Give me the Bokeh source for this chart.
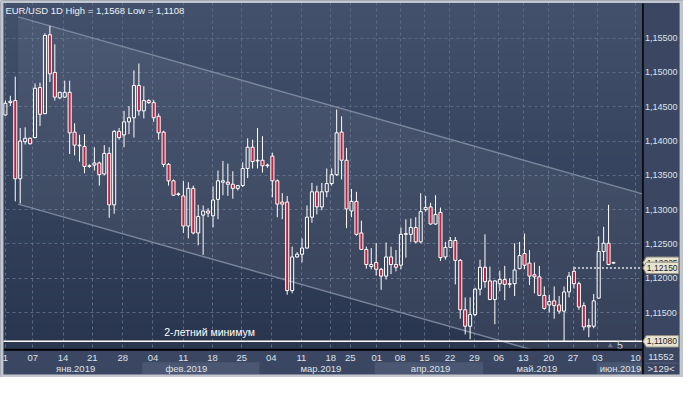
import numpy as np
from bokeh.plotting import figure
from bokeh.models import Range1d, FixedTicker, Grid
from bokeh.core.properties import value
from bokeh.embed import file_html
from bokeh.resources import INLINE

# ---------------- data ----------------
open_ = [1.1438, 1.1456, 1.1459, 1.1345, 1.1399, 1.1404, 1.1405, 1.1478, 1.1440, 1.1555,
         1.1500, 1.1463, 1.1464, 1.1471, 1.1413, 1.1394, 1.1392, 1.1364, 1.1365, 1.1368,
         1.1352, 1.1382, 1.1307, 1.1414, 1.1409, 1.1428, 1.1434, 1.1481, 1.1444, 1.1459,
         1.1456, 1.1436, 1.1413, 1.1366, 1.1342, 1.1322, 1.1320, 1.1276, 1.1331, 1.1266,
         1.1292, 1.1298, 1.1291, 1.1315, 1.1340, 1.1340, 1.1337, 1.1331, 1.1335, 1.1360,
         1.1391, 1.1371, 1.1372, 1.1364, 1.1378, 1.1342, 1.1311, 1.1311, 1.1182, 1.1231,
         1.1235, 1.1244, 1.1289, 1.1326, 1.1304, 1.1326, 1.1338, 1.1351, 1.1413, 1.1372,
         1.1298, 1.1312, 1.1266, 1.1242, 1.1217, 1.1223, 1.1213, 1.1203, 1.1231, 1.1220,
         1.1219, 1.1264, 1.1264, 1.1274, 1.1253, 1.1300, 1.1304, 1.1279, 1.1296, 1.1231,
         1.1245, 1.1255, 1.1226, 1.1154, 1.1130, 1.1147, 1.1184, 1.1216, 1.1196, 1.1169,
         1.1192, 1.1198, 1.1192, 1.1192, 1.1214, 1.1236, 1.1222, 1.1205, 1.1202, 1.1175,
         1.1161, 1.1167, 1.1161, 1.1152, 1.1180, 1.1210, 1.1192, 1.1160, 1.1129, 1.1130,
         1.1171, 1.1239, 1.1251, 1.1222]
high = [1.1459, 1.1466, 1.1494, 1.1419, 1.1420, 1.1405, 1.1484, 1.1485, 1.1557, 1.1568,
        1.1541, 1.1472, 1.1488, 1.1488, 1.1426, 1.1409, 1.1410, 1.1366, 1.1391, 1.1370,
        1.1394, 1.1391, 1.1416, 1.1419, 1.1444, 1.1451, 1.1503, 1.1513, 1.1480, 1.1461,
        1.1460, 1.1440, 1.1415, 1.1368, 1.1344, 1.1325, 1.1342, 1.1340, 1.1335, 1.1307,
        1.1306, 1.1302, 1.1334, 1.1357, 1.1371, 1.1367, 1.1356, 1.1336, 1.1369, 1.1404,
        1.1402, 1.1419, 1.1407, 1.1367, 1.1383, 1.1344, 1.1324, 1.1320, 1.1246, 1.1238,
        1.1258, 1.1306, 1.1339, 1.1335, 1.1339, 1.1360, 1.1360, 1.1446, 1.1436, 1.1390,
        1.1330, 1.1326, 1.1284, 1.1246, 1.1244, 1.1251, 1.1215, 1.1252, 1.1246, 1.1241,
        1.1274, 1.1286, 1.1287, 1.1289, 1.1324, 1.1320, 1.1310, 1.1321, 1.1303, 1.1253,
        1.1260, 1.1260, 1.1228, 1.1172, 1.1172, 1.1186, 1.1227, 1.1264, 1.1217, 1.1197,
        1.1211, 1.1218, 1.1200, 1.1251, 1.1253, 1.1265, 1.1241, 1.1223, 1.1218, 1.1188,
        1.1176, 1.1188, 1.1174, 1.1188, 1.1209, 1.1217, 1.1195, 1.1165, 1.1141, 1.1177,
        1.1261, 1.1275, 1.1307, 1.1224]
low = [1.1437, 1.1451, 1.1312, 1.1309, 1.1395, 1.1395, 1.1404, 1.1422, 1.1439, 1.1486,
       1.1459, 1.1461, 1.1463, 1.1381, 1.1379, 1.1370, 1.1353, 1.1361, 1.1357, 1.1335,
       1.1350, 1.1288, 1.1294, 1.1402, 1.1391, 1.1410, 1.1405, 1.1437, 1.1433, 1.1454,
       1.1428, 1.1402, 1.1362, 1.1335, 1.1320, 1.1320, 1.1266, 1.1258, 1.1264, 1.1248,
       1.1234, 1.1289, 1.1274, 1.1286, 1.1321, 1.1320, 1.1316, 1.1328, 1.1333, 1.1346,
       1.1360, 1.1360, 1.1354, 1.1361, 1.1318, 1.1289, 1.1286, 1.1176, 1.1178, 1.1230,
       1.1223, 1.1243, 1.1281, 1.1293, 1.1299, 1.1318, 1.1335, 1.1349, 1.1344, 1.1273,
       1.1289, 1.1262, 1.1241, 1.1214, 1.1213, 1.1204, 1.1183, 1.1198, 1.1206, 1.1210,
       1.1213, 1.1230, 1.1253, 1.1251, 1.1251, 1.1297, 1.1278, 1.1278, 1.1225, 1.1227,
       1.1244, 1.1191, 1.1141, 1.1118, 1.1111, 1.1145, 1.1175, 1.1186, 1.1168, 1.1133,
       1.1181, 1.1168, 1.1186, 1.1174, 1.1213, 1.1213, 1.1190, 1.1178, 1.1174, 1.1154,
       1.1150, 1.1141, 1.1148, 1.1108, 1.1172, 1.1185, 1.1154, 1.1124, 1.1114, 1.1127,
       1.1170, 1.1225, 1.1219, 1.1221]
close = [1.1455, 1.1458, 1.1345, 1.1400, 1.1404, 1.1396, 1.1477, 1.1439, 1.1554, 1.1498,
         1.1464, 1.1471, 1.1471, 1.1412, 1.1394, 1.1393, 1.1363, 1.1363, 1.1368, 1.1351,
         1.1382, 1.1307, 1.1414, 1.1405, 1.1428, 1.1434, 1.1481, 1.1444, 1.1459, 1.1456,
         1.1434, 1.1412, 1.1366, 1.1342, 1.1321, 1.1323, 1.1276, 1.1331, 1.1266, 1.1290,
         1.1298, 1.1295, 1.1314, 1.1342, 1.1342, 1.1337, 1.1331, 1.1335, 1.1360, 1.1391,
         1.1370, 1.1372, 1.1364, 1.1365, 1.1342, 1.1308, 1.1308, 1.1182, 1.1231, 1.1235,
         1.1244, 1.1289, 1.1326, 1.1304, 1.1326, 1.1338, 1.1351, 1.1412, 1.1372, 1.1301,
         1.1312, 1.1264, 1.1242, 1.1220, 1.1220, 1.1213, 1.1203, 1.1231, 1.1220, 1.1216,
         1.1264, 1.1265, 1.1274, 1.1253, 1.1297, 1.1303, 1.1279, 1.1293, 1.1230, 1.1245,
         1.1255, 1.1226, 1.1154, 1.1130, 1.1147, 1.1184, 1.1216, 1.1195, 1.1169, 1.1196,
         1.1198, 1.1191, 1.1191, 1.1212, 1.1233, 1.1219, 1.1203, 1.1202, 1.1175, 1.1156,
         1.1166, 1.1160, 1.1152, 1.1180, 1.1203, 1.1192, 1.1158, 1.1129, 1.1131, 1.1167,
         1.1239, 1.1251, 1.1220, 1.1223]

# bar-index positions of the date labels
day_pos = [1.0, 6.53, 12.66, 18.59, 24.72, 30.84, 36.97, 42.90, 48.83, 54.76, 60.88, 66.81,
           70.76, 76.10, 80.84, 85.78, 90.92, 95.86, 100.80, 105.74, 110.88, 115.82, 120.76, 128.47]
day_labels = ["1", "07", "14", "21", "28", "04", "11", "18", "25", "04", "11", "18",
              "25", "01", "08", "15", "22", "29", "06", "13", "20", "27", "03", "10"]
month_pos = [15.2, 37.6, 64.8, 87.0, 108.5, 125.4]
month_labels = ["янв.2019", "фев.2019", "мар.2019", "апр.2019", "май.2019", "июн.2019"]
band_start = [28.7, 75.7, 120.6]
band_end = [52.4, 97.6, 129.85]

price_ticks = [1.115, 1.120, 1.125, 1.130, 1.135, 1.140, 1.145, 1.150, 1.155]
price_labels = [f"{t:.5f}".replace(".", ",") for t in price_ticks]
two_year_low = 1.1108
last_price = 1.1215
last_bar_price = 1.12225
last_price_from = 116
channel_x = [3.57, 129.85]
channel_upper = [1.1581, 1.1323]
channel_lower = [1.1308, 1.1050]
bar_count = "11552"
visible_bars = ">129<"
title = "EUR/USD 1D High = 1,1568 Low = 1,1108"

# ---------------- layout helpers (reference pixel -> data) ----------------
def rx(px):
    return 1 + (px - 5) / 5.06

def ry(py):
    return 1.130 + (218 - py) / 7150

FONT = "Liberation Sans"
PANEL = "#3b4762"
BAND = "#4b5772"
LABEL_C = "#dde1e8"
RED = "#c0223f"
BORDER = "#c3c7ce"
PX0, PX1 = rx(3), rx(657)      # plot area left/right
PY0, PY1 = ry(363), ry(3)      # plot area bottom/top

p = figure(width=683, height=377, x_range=Range1d(rx(0), rx(699)), y_range=Range1d(ry(393), ry(0)),
           x_axis_location=None, y_axis_location=None, toolbar_location=None,
           output_backend="svg", min_border=0, min_border_left=0, min_border_right=0,
           min_border_top=0, min_border_bottom=0)
p.outline_line_color = None
p.background_fill_color = PANEL
p.border_fill_color = PANEL

# vertical gradient background of the plot area
rows = 160
top_rgb = np.array([0x43, 0x51, 0x6d], dtype=float)
bot_rgb = np.array([0x2a, 0x36, 0x4f], dtype=float)
t = np.linspace(0, 1, rows)[:, None]
cols = bot_rgb * (1 - t) + top_rgb * t
img = np.empty((rows, 1), dtype=np.uint32)
view = img.view(dtype=np.uint8).reshape((rows, 1, 4))
view[:, 0, 0] = cols[:, 0]
view[:, 0, 1] = cols[:, 1]
view[:, 0, 2] = cols[:, 2]
view[:, 0, 3] = 255
bg = p.image_rgba(image=[img], x=PX0, y=PY0, dw=PX1 - PX0, dh=PY1 - PY0)
bg.level = "image"

# grids
p.center = [r for r in p.center if not isinstance(r, Grid)]
for dim, ticks in ((0, day_pos), (1, price_ticks)):
    p.add_layout(Grid(dimension=dim, ticker=FixedTicker(ticks=ticks), grid_line_color="#5b6985",
                      grid_line_dash="3 3", grid_line_width=1), "center")

# price channel
p.patch([channel_x[0], channel_x[1], channel_x[1], channel_x[0]],
        [channel_upper[0], channel_upper[1], channel_lower[1], channel_lower[0]],
        fill_color="white", fill_alpha=0.06, line_color=None)
p.line(channel_x, channel_upper, line_color="#8a95aa", line_alpha=0.8, line_width=1.5)
p.line(channel_x, channel_lower, line_color="#8a95aa", line_alpha=0.8, line_width=1.5)

# candles
o = np.array(open_); c = np.array(close); h = np.array(high); l = np.array(low)
idx = np.arange(1, len(o) + 1)
body_top = np.maximum(o, c)
body_bot = np.minimum(o, c)
bear = c < o
p.segment(idx, h, idx, body_top, line_color="white", line_width=1)
p.segment(idx, body_bot, idx, l, line_color="white", line_width=1)
p.vbar(x=idx[~bear], width=0.62, top=body_top[~bear], bottom=body_bot[~bear],
       fill_alpha=0, line_color="white", line_width=1)
p.vbar(x=idx[bear], width=0.62, top=body_top[bear], bottom=body_bot[bear],
       fill_color=RED, line_color="white", line_width=1)

# horizontal levels
p.segment(x0=[PX0], y0=[two_year_low], x1=[PX1], y1=[two_year_low], line_color="white", line_width=1.5)
p.segment(x0=[last_price_from], y0=[last_price], x1=[PX1], y1=[last_price],
          line_color="#b7bdc9", line_dash="2 2", line_width=2)

p.text(x=[rx(214)], y=[ry(345.5)], text=["2-летний минимум"], text_align="center",
       text_baseline="middle", text_color="white", text_font=value(FONT), text_font_size="10.5px")
p.scatter([rx(624)], [ry(360)], marker="triangle", size=5, fill_color="#6c7891", line_color=None)
p.text(x=[rx(634)], y=[ry(359)], text=["5"], text_align="center", text_baseline="middle",
       text_color="#d5d9e0", text_font=value(FONT), text_font_size="10.5px")
p.text(x=[rx(5)], y=[ry(10)], text=[title], text_align="left", text_baseline="middle",
       text_color="#eef0f4", text_font=value(FONT), text_font_size="9.5px")

# bottom axis strip
p.quad(left=[rx(3)], right=[rx(695)], top=[ry(363)], bottom=[ry(390)], fill_color=PANEL, line_color=None)
p.quad(left=band_start, right=band_end, top=ry(377), bottom=ry(390), fill_color=BAND, line_color=None)
p.segment(x0=[rx(3)], y0=[ry(364)], x1=[rx(695)], y1=[ry(364)], line_color="black", line_width=2)
p.text(x=day_pos, y=ry(373), text=day_labels, text_align="center", text_baseline="middle",
       text_color=LABEL_C, text_font=value(FONT), text_font_size="9.5px")
p.text(x=month_pos, y=ry(383.5), text=month_labels, text_align="center", text_baseline="middle",
       text_color=LABEL_C, text_font=value(FONT), text_font_size="9.5px")

# right price scale
p.quad(left=[rx(657)], right=[rx(695)], top=[ry(3)], bottom=[ry(390)], fill_color=PANEL, line_color=None)
p.segment(x0=[rx(657.5)], y0=[ry(3)], x1=[rx(657.5)], y1=[ry(390)], line_color="black", line_width=1.5)
p.text(x=rx(659.5), y=price_ticks, text=price_labels, text_align="left", text_baseline="middle",
       text_color=LABEL_C, text_font=value(FONT), text_font_size="9px")

# price tags (arrow-shaped boxes)
hh = 6 / 7150
tag_vals = [last_bar_price, last_price, two_year_low]
tag_text = [f"{v:.5f}".replace(".", ",") for v in tag_vals]
for v, txt in zip(tag_vals, tag_text):
    p.patch([rx(657.5), rx(661), rx(694), rx(694), rx(661)], [v, v + hh, v + hh, v - hh, v - hh],
            fill_color="#e6e4d0", line_color="#8f8e80", line_width=1)
    p.text(x=[rx(661.5)], y=[v], text=[txt], text_align="left", text_baseline="middle",
           text_color="#1d2128", text_font=value(FONT), text_font_size="8.5px")

# corner box
p.text(x=[rx(676)], y=[ry(372)], text=[bar_count], text_align="center", text_baseline="middle",
       text_color=LABEL_C, text_font=value(FONT), text_font_size="9.5px")
p.segment(x0=[rx(660)], y0=[ry(378)], x1=[rx(693)], y1=[ry(378)], line_color="#55627c", line_width=1)
p.text(x=[rx(676)], y=[ry(384)], text=[visible_bars], text_align="center", text_baseline="middle",
       text_color=LABEL_C, text_font=value(FONT), text_font_size="9.5px")

# outer light frame
p.quad(left=[rx(0), rx(695), rx(0), rx(0)], right=[rx(3), rx(699), rx(699), rx(699)],
       top=[ry(0), ry(0), ry(0), ry(390)], bottom=[ry(393), ry(393), ry(2.5), ry(393)],
       fill_color=BORDER, line_color=None)

open("out.html", "w").write(file_html(p, INLINE))
